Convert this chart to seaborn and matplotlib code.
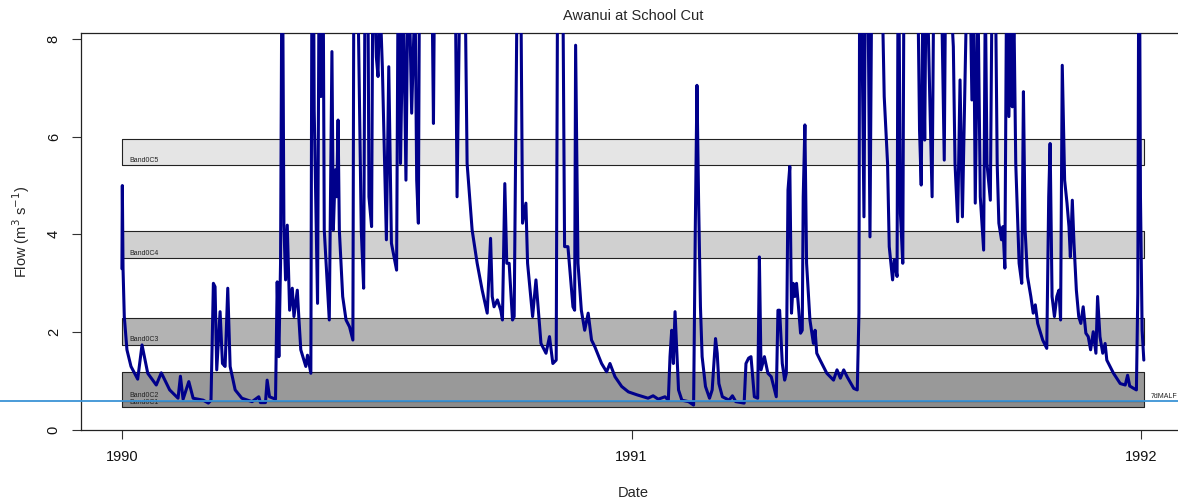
import matplotlib
matplotlib.use("Agg")
import matplotlib.pyplot as plt
import matplotlib.transforms as mtransforms
import numpy as np
import pandas as pd
import seaborn as sns

# ---- data -----------------------------------------------------------------
record_start = pd.Timestamp("1990-01-01")

# days since the start of the record, and flow (m3/s) at those times
record_day = [
    0.0, 0.3, 0.8, 1.7, 3.6, 6.5, 11.3, 14.4, 18.5, 24.6, 28.2, 34.2, 40.2, 41.9,
    43.8, 47.9, 51.0, 58.2, 61.9, 63.8, 65.5, 66.7, 67.9, 70.3, 72.0, 73.9, 75.8,
    77.5, 81.1, 85.9, 93.2, 98.0, 99.2, 102.8, 104.0, 105.7, 110.0, 111.2, 112.4,
    113.6, 114.8, 116.0, 117.2, 118.4, 120.1, 122.0, 123.2, 125.6, 126.8, 128.1,
    131.7, 132.9, 135.3, 136.5, 137.7, 140.1, 141.3, 142.5, 143.7, 144.9, 148.5,
    150.4, 151.4, 152.8, 153.8, 154.8, 155.7, 158.1, 160.5, 163.0, 165.4, 166.6,
    169.0, 171.4, 173.1, 174.5, 176.2, 176.9, 178.8, 179.8, 182.2, 183.4, 184.6,
    186.5, 188.2, 189.4, 191.1, 193.0, 194.9, 196.7, 198.1, 199.5, 201.5, 203.4,
    205.1, 207.5, 209.9, 211.1, 212.3, 213.5, 217.7, 221.9, 223.1, 224.3, 228.5,
    233.5, 238.8, 240.0, 242.4, 246.0, 247.2, 250.8, 254.4, 258.0, 261.6, 264.0,
    265.2, 266.5, 268.9, 271.3, 272.5, 274.2, 275.6, 277.3, 279.7, 280.9, 283.3,
    285.7, 286.9, 289.3, 290.5, 294.1, 296.5, 300.1, 303.7, 306.2, 308.6, 311.0,
    312.2, 315.8, 317.0, 319.4, 323.0, 324.2, 324.9, 326.6, 329.0, 331.4, 333.9,
    336.3, 338.7, 343.5, 347.1, 349.5, 353.1, 357.9, 362.7, 368.8,
    376.8, 380.4, 384.1, 388.9, 391.3, 392.5, 393.7, 394.9, 396.1, 397.3, 398.6,
    401.0, 405.8, 409.4, 410.6, 411.8, 413.0, 414.3, 415.5, 417.9, 420.8, 422.7,
    425.1, 426.3, 427.5, 430.0, 434.8, 437.2, 439.6, 445.6, 446.9, 448.8, 450.5,
    452.9, 455.3, 456.5, 457.7, 460.1, 462.6, 465.0, 468.6, 469.8, 471.0, 472.9,
    474.6, 475.8, 477.0, 478.3, 479.5, 480.7, 481.9, 483.1, 484.3, 486.0, 487.2,
    487.9, 489.1, 490.3, 492.7, 495.2, 496.4, 497.6, 500.0, 504.8, 509.6, 512.1,
    514.5, 516.9, 519.3, 524.1, 526.6, 527.8, 528.5, 531.4, 532.6, 534.3, 535.7,
    537.4, 540.5, 544.7, 545.9, 548.3, 549.5, 551.9, 553.1, 555.1, 556.0, 557.5,
    559.2, 560.4, 565.5, 570.0, 571.2, 572.4, 573.6, 574.9, 576.1, 578.5, 580.2,
    581.6, 584.5, 586.9, 588.9, 589.8, 592.5, 595.4, 596.6, 598.5, 600.2, 601.9,
    603.3, 605.0, 607.5, 608.7, 609.9, 611.1, 613.0, 614.7, 617.1, 618.3, 619.5,
    621.9, 623.1, 625.6, 626.8, 628.0, 629.9, 630.9, 632.3, 633.5, 635.2, 636.4,
    637.6, 638.8, 640.1, 642.5, 644.4, 645.6, 646.8, 648.5, 650.9, 652.6, 654.1,
    655.8, 659.4, 662.3, 663.7, 664.7, 666.1, 667.8, 669.5, 671.0, 672.2, 673.4,
    675.1, 676.8, 678.2, 679.2, 680.6, 681.8, 683.5, 685.2, 686.7, 688.4, 690.3,
    692.0, 693.7, 695.6, 697.5, 698.7, 700.4, 702.4, 704.1, 705.3, 710.1, 714.9,
    718.5, 720.2, 721.7, 724.6, 726.5, 727.5, 728.4, 729.4, 730.6, 731.8,
]
flow = [
    3.3, 5.0, 3.3, 2.32, 1.64, 1.30, 1.04, 1.74, 1.16, 0.92, 1.17, 0.82, 0.65, 1.10,
    0.63, 0.99, 0.65, 0.61, 0.55, 0.61, 3.00, 2.93, 1.23, 2.42, 1.36, 1.30, 2.90,
    1.30, 0.82, 0.65, 0.58, 0.68, 0.56, 0.56, 1.02, 0.68, 0.63, 3.03, 1.50,
    3.41, 11.0, 4.19, 3.07, 4.19, 2.45, 2.90, 2.32, 2.86, 2.25, 1.64,
    1.30, 1.53, 1.16, 14.0, 6.54, 2.59, 10.0, 6.82, 12.0, 4.09, 2.25,
    7.74, 4.09, 5.32, 4.77, 6.34, 4.09, 2.73, 2.25, 2.11, 1.84, 15.0,
    9.0, 4.09, 2.90, 12.0, 9.0, 4.77, 4.16, 10.0, 7.63, 7.23, 9.0,
    7.43, 5.32, 3.89, 7.43, 3.82, 3.54, 3.27, 11.0, 5.45, 9.0, 5.11,
    10.0, 6.48, 9.0, 5.11, 4.23, 12.0, 9.0, 9.5, 6.27, 11.0, 10.0,
    9.5, 9.0, 4.77, 10.0, 8.5, 5.45, 4.09, 3.41, 2.86, 2.39, 3.92,
    2.73, 2.52, 2.66, 2.45, 2.25, 5.04, 3.41, 3.41, 2.25, 2.32, 10.0,
    9.0, 4.23, 4.64, 3.41, 2.32, 3.07, 1.77, 1.57, 1.91, 1.36, 1.43,
    11.0, 9.0, 3.75, 3.75, 2.52, 2.45, 7.87, 3.41, 2.45, 2.04, 2.39,
    1.84, 1.70, 1.36, 1.19, 1.36, 1.09, 0.89, 0.78, 0.72,
    0.65, 0.70, 0.63, 0.68, 0.61, 1.50, 2.04, 1.36, 2.42, 1.64, 0.82,
    0.61, 0.58, 0.51, 4.09, 7.05, 4.64, 2.52, 1.50, 0.89, 0.65, 0.82,
    1.87, 1.57, 0.95, 0.68, 0.61, 0.70, 0.58, 0.55, 1.36, 1.47, 1.50,
    0.68, 0.65, 3.54, 1.23, 1.50, 1.16, 1.09, 0.68, 2.45, 2.45, 1.36,
    1.02, 1.16, 4.91, 5.39, 2.39, 3.00, 2.73, 3.00, 2.59, 1.98, 2.04,
    4.77, 6.24, 3.41, 2.25, 1.77, 2.04, 1.57, 1.43, 1.16, 1.02, 1.23,
    1.06, 1.23, 1.09, 0.85, 0.82, 2.39, 12.0, 4.36, 10.0, 9.0, 3.95,
    11.0, 10.0, 8.6, 6.82, 5.45, 3.75, 3.07, 3.48, 3.14, 11.0, 4.43,
    3.41, 12.0, 10.0, 9.0, 6.13, 5.01, 9.0, 5.93, 10.0, 6.82, 4.77,
    10.0, 9.5, 9.0, 5.52, 9.0, 9.5, 7.84, 5.45, 4.26, 7.16, 4.36,
    6.48, 9.0, 9.0, 6.75, 9.0, 4.64, 9.0, 4.77, 3.68, 9.0, 5.45,
    4.70, 9.0, 9.0, 5.45, 4.23, 3.89, 4.16, 3.31, 9.0, 6.41, 9.0,
    6.61, 8.5, 5.45, 3.41, 3.00, 6.92, 4.09, 3.14, 2.73, 2.39, 2.56,
    2.18, 1.84, 1.67, 4.77, 5.86, 2.73, 2.32, 2.73, 2.86, 2.25, 7.46,
    5.11, 4.64, 4.16, 3.54, 4.70, 3.82, 2.86, 2.32, 2.18, 2.52, 1.98,
    1.91, 1.64, 2.01, 1.57, 2.73, 1.91, 1.57, 1.77, 1.43, 1.16, 0.95,
    0.92, 1.12, 0.90, 0.85, 0.82, 2.79, 12.0, 4.77, 2.04, 1.43,
]

# flow bands (lower / upper limits, m3/s)
band_names = ["Band0C1", "Band0C2", "Band0C3", "Band0C4", "Band0C5"]
band_low = [0.47, 0.60, 1.74, 3.51, 5.41]
band_high = [0.60, 1.19, 2.30, 4.07, 5.95]
band_colors = ["#8c8c8c", "#999999", "#b3b3b3", "#d0d0d0", "#e5e5e5"]
band_last_day = 732

malf_7d = 0.59
year_ticks = ["1990-01-01", "1991-01-01", "1992-01-01"]
year_labels = ["1990", "1991", "1992"]

# ---- figure -----------------------------------------------------------------
sns.set_theme(style="white")
plt.rcParams["font.family"] = ["Liberation Sans", "DejaVu Sans"]

W, H = 1178, 500
fig = plt.figure(figsize=(W / 100, H / 100), dpi=100, facecolor="white")
ax = fig.add_axes([81 / W, 70 / H, (1185 - 81) / W, (430 - 33) / H])

dates = record_start + pd.to_timedelta(record_day, unit="D")
df = pd.DataFrame({"Date": dates, "Flow": flow})

# flow bands
band_x = [record_start, record_start + pd.Timedelta(days=band_last_day)]
for name, lo, hi, col in zip(band_names, band_low, band_high, band_colors):
    ax.fill_between(band_x, lo, hi, facecolor=col, edgecolor="#222222",
                    linewidth=0.8, zorder=1)
    ax.text(record_start + pd.Timedelta(days=5), lo + 0.03, name,
            fontsize=5, color="#222222", ha="left", va="bottom", zorder=2)

# hydrograph
sns.lineplot(data=df, x="Date", y="Flow", ax=ax, color="#00008B",
             linewidth=2.2, sort=False, estimator=None, zorder=3)

# 7-day MALF reference line across the full width of the figure
trans = mtransforms.blended_transform_factory(fig.transFigure, ax.transData)
ax.plot([0, 1], [malf_7d, malf_7d], transform=trans, color="#3a93d6",
        linewidth=1.3, clip_on=False, zorder=4)
ax.text(record_start + pd.Timedelta(days=736.5), malf_7d + 0.02, "7dMALF",
        fontsize=5, color="#222222", ha="left", va="bottom", clip_on=False)

# axes
ax.set_xlim(record_start - pd.Timedelta(days=29.3),
            record_start + pd.Timedelta(days=761.3))
ax.set_ylim(0, 8.12)
ax.set_xticks(pd.to_datetime(year_ticks))
ax.set_xticklabels(year_labels)
ax.set_yticks([0, 2, 4, 6, 8])
ax.set_yticklabels(["0", "2", "4", "6", "8"], rotation=90, va="center")
ax.tick_params(axis="both", direction="out", length=6.5, width=0.8,
               color="#333333", labelsize=10.5, labelcolor="#111111", pad=8,
               left=True, bottom=True)

for side in ["left", "bottom", "top", "right"]:
    ax.spines[side].set_color("#222222")
    ax.spines[side].set_linewidth(0.9)

ax.set_xlabel("Date", fontsize=10.5, labelpad=16)
ax.set_ylabel("Flow (m$^{3}$ s$^{-1}$)", fontsize=10.5, labelpad=11)
ax.set_title("Awanui at School Cut", fontsize=10.5, pad=9)

fig.savefig("out.png", dpi=100, facecolor="white")
